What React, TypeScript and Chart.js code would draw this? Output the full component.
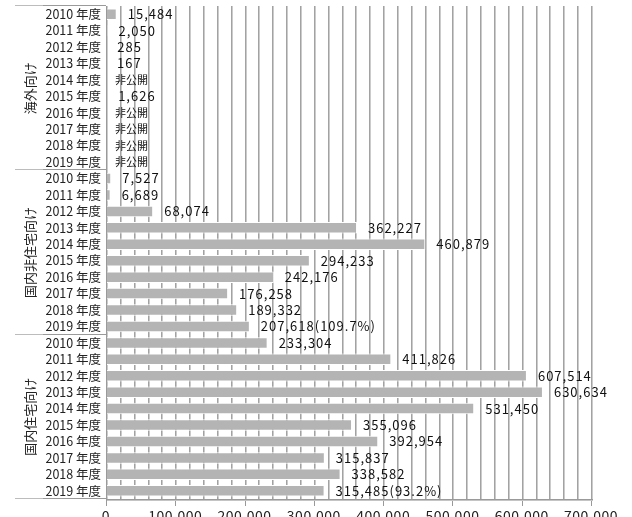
import React, { useEffect, useRef } from 'react';
import { Chart, registerables } from 'chart.js';

Chart.register(...registerables);

// Outer category groups (10 fiscal years each)
const groups = ['海外向け', '国内非住宅向け', '国内住宅向け'];
const years = [
  '2010 年度', '2011 年度', '2012 年度', '2013 年度', '2014 年度',
  '2015 年度', '2016 年度', '2017 年度', '2018 年度', '2019 年度',
];

// Values per group; null = 非公開 (not disclosed)
const overseas: (number | null)[] = [15484, 2050, 285, 167, null, 1626, null, null, null, null];
const domesticNonResidential: (number | null)[] = [7527, 6689, 68074, 362227, 460879, 294233, 242176, 176258, 189332, 207618];
const domesticResidential: (number | null)[] = [233304, 411826, 607514, 630634, 531450, 355096, 392954, 315837, 338582, 315485];

// Extra text appended to value labels (year-on-year ratio for the latest year)
const overseasNotes = ['', '', '', '', '', '', '', '', '', ''];
const domesticNonResidentialNotes = ['', '', '', '', '', '', '', '', '', '(109.7%)'];
const domesticResidentialNotes = ['', '', '', '', '', '', '', '', '', '(93.2%)'];

const undisclosedText = '非公開';
const xMax = 700000;
const minorStep = 20000;
const majorStep = 100000;

const FONT = '"Noto Sans CJK JP", "Noto Sans", sans-serif';

const values = [...overseas, ...domesticNonResidential, ...domesticResidential];
const notes = [...overseasNotes, ...domesticNonResidentialNotes, ...domesticResidentialNotes];
const categoryLabels = [...years, ...years, ...years];

// Value axis: grid line every minor step, labelled tick every major step
const gridPlugin = {
  id: 'valueGrid',
  beforeDatasetsDraw(chart: any) {
    const { ctx, chartArea } = chart;
    const top = Math.round(chartArea.top);
    const bottom = Math.round(chartArea.bottom);
    const xs = chart.scales.x;
    ctx.save();
    for (let v = 0; v <= xMax; v += minorStep) {
      const px = Math.round(xs.getPixelForValue(v));
      // two-tone 2px grid line
      ctx.fillStyle = '#a2a2a2';
      ctx.fillRect(px, top, 1, bottom - top);
      ctx.fillStyle = '#cbcbcb';
      ctx.fillRect(px + 1, top, 1, bottom - top);
      if (v % majorStep === 0) {
        ctx.fillStyle = '#999';
        ctx.fillRect(px, bottom, 1, 7);
      }
    }
    // bottom axis line
    ctx.fillStyle = '#9a9a9a';
    ctx.fillRect(Math.round(chartArea.left), bottom, Math.round(chartArea.right - chartArea.left) + 2, 1);
    ctx.fillStyle = '#c4c4c4';
    ctx.fillRect(Math.round(chartArea.left), bottom + 1, Math.round(chartArea.right - chartArea.left) + 2, 1);
    ctx.restore();
  },
  afterDraw(chart: any) {
    const { ctx, chartArea } = chart;
    const xs = chart.scales.x;
    ctx.save();
    ctx.fillStyle = '#222';
    ctx.font = `14px ${FONT}`;
    (ctx as any).letterSpacing = '0.5px';
    ctx.textAlign = 'center';
    ctx.textBaseline = 'top';
    for (let v = 0; v <= xMax; v += majorStep) {
      ctx.fillText(v.toLocaleString('en-US'), xs.getPixelForValue(v), chartArea.bottom + 10);
    }
    ctx.restore();
  },
};

const groupPlugin = {
  id: 'groupAxis',
  afterDraw(chart: any) {
    const { ctx, chartArea } = chart;
    const { top, bottom, left } = chartArea;
    const rows = categoryLabels.length;
    const rowH = (bottom - top) / rows;
    const perGroup = years.length;
    ctx.save();
    // left axis line
    ctx.fillStyle = '#9a9a9a';
    ctx.fillRect(Math.round(left), Math.round(top), 1, Math.round(bottom - top) + 2);
    // group separators on the label area
    for (let g = 0; g <= groups.length; g++) {
      const y = Math.round(top + rowH * perGroup * g) - 1;
      ctx.fillStyle = '#bcbcbc';
      ctx.fillRect(15, y, 28, 1);
      ctx.fillStyle = '#9a9a9a';
      ctx.fillRect(43, y, Math.round(left) - 43, 1);
    }
    // rotated group titles
    ctx.fillStyle = '#222';
    ctx.font = `13px ${FONT}`;
    ctx.textAlign = 'center';
    ctx.textBaseline = 'middle';
    groups.forEach((name, g) => {
      const cy = top + rowH * perGroup * (g + 0.5);
      ctx.save();
      ctx.translate(30, cy);
      ctx.rotate(-Math.PI / 2);
      ctx.fillText(name, 0, 0);
      ctx.restore();
    });
    ctx.restore();
  },
};

const valueLabelPlugin = {
  id: 'valueLabels',
  afterDatasetsDraw(chart: any) {
    const { ctx } = chart;
    const xScale = chart.scales.x;
    const yScale = chart.scales.y;
    const meta = chart.getDatasetMeta(0);
    const x0 = xScale.getPixelForValue(0);
    ctx.save();
    ctx.fillStyle = '#111';
    ctx.textAlign = 'left';
    ctx.textBaseline = 'middle';
    values.forEach((v, i) => {
      const y = yScale.getPixelForValue(i);
      if (v == null) {
        ctx.font = `11px ${FONT}`;
        (ctx as any).letterSpacing = '0px';
        ctx.fillText(undisclosedText, x0 + 9, y);
      } else {
        const bar = meta.data[i];
        ctx.font = `13px ${FONT}`;
        (ctx as any).letterSpacing = '1px';
        ctx.fillText(v.toLocaleString('en-US') + notes[i], bar.x + 11, y);
      }
    });
    ctx.restore();
  },
};

export default function App() {
  const canvasRef = useRef<HTMLCanvasElement | null>(null);

  useEffect(() => {
    if (!canvasRef.current) return;
    const chart = new Chart(canvasRef.current, {
      type: 'bar',
      data: {
        labels: categoryLabels,
        datasets: [
          {
            data: values,
            backgroundColor: '#b4b4b4',
            borderColor: '#ffffff',
            borderWidth: 1,
            borderSkipped: 'start',
            barPercentage: 0.7,
            categoryPercentage: 1,
          },
        ],
      },
      options: {
        indexAxis: 'y',
        animation: false,
        responsive: false,
        devicePixelRatio: 1,
        layout: { padding: { left: 0, top: 6, right: 41, bottom: 0 } },
        plugins: {
          legend: { display: false },
          tooltip: { enabled: false },
          title: { display: false },
        },
        scales: {
          x: {
            type: 'linear',
            min: 0,
            max: xMax,
            afterFit(scale: any) {
              scale.height = 31;
              scale.paddingLeft = 0;
              scale.paddingRight = 0;
            },
            grid: { display: false, drawTicks: false, tickLength: 0 },
            border: { display: false },
            ticks: { display: false },
          },
          y: {
            type: 'category',
            offset: true,
            afterFit(scale: any) {
              scale.width = 106;
              scale.paddingTop = 0;
              scale.paddingBottom = 0;
            },
            grid: { display: false, drawTicks: false, tickLength: 0 },
            border: { display: false },
            ticks: {
              autoSkip: false,
              padding: 5,
              color: '#222',
              font: { family: FONT, size: 12.5 },
            },
          },
        },
      },
      plugins: [gridPlugin, groupPlugin, valueLabelPlugin],
    } as any);
    return () => chart.destroy();
  }, []);

  return (
    <div
      style={{
        position: 'absolute',
        left: 0,
        top: 0,
        width: 632,
        height: 517,
        overflow: 'hidden',
        background: '#fff',
      }}
    >
      <canvas ref={canvasRef} width={632} height={530} style={{ display: 'block' }} />
    </div>
  );
}
